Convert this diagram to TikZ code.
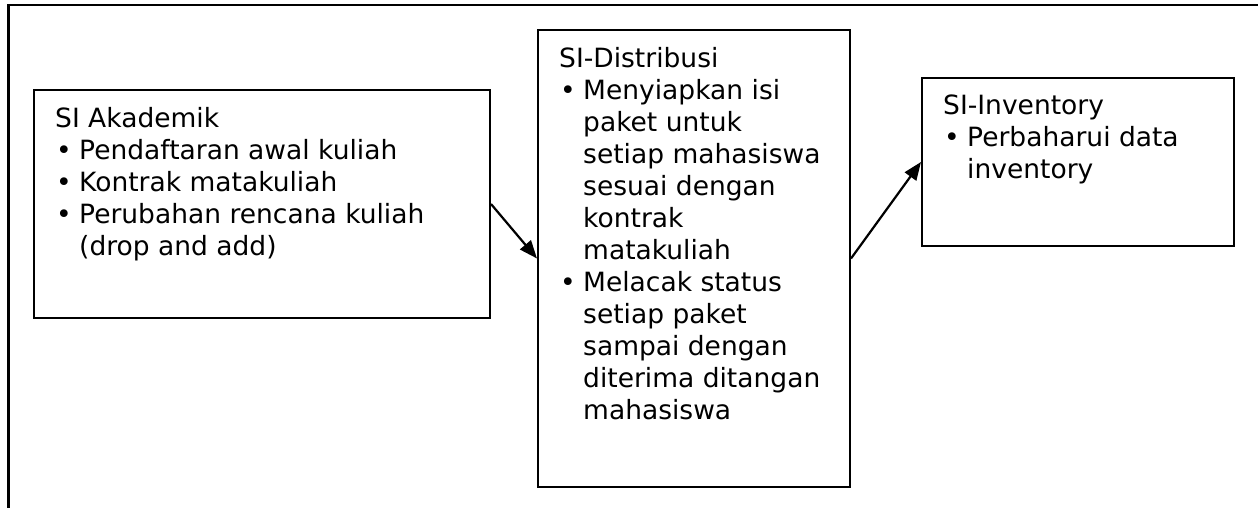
\documentclass[tikz,border=0pt]{standalone}
\usepackage{fontspec}
\setmainfont{DejaVu Sans}
\usetikzlibrary{arrows.meta}
% one printed line, a bulleted line and a continuation line
\newcommand\rowtext[1]{\hbox{#1}}
\newcommand\bul[1]{\hbox{\makebox[24pt][l]{\hspace{1pt}\textbullet}#1}}
\newcommand\cont[1]{\hbox{\hspace*{24pt}#1}}
\begin{document}
\begin{tikzpicture}[x=1pt,y=-1pt,
  box/.style={draw,line width=2pt,inner sep=0pt,minimum width=#1},
  txt/.style={anchor=base west,inner sep=0pt,
    font=\fontsize{26.5}{32}\selectfont},
  flow/.style={line width=2.2pt,-{Triangle[length=18pt,width=14pt]}}]
\useasboundingbox (0,0) rectangle (1258,508);
% outer frame (only its top and left sides fall in the page)
\draw[line width=2.4pt] (8.5,508) -- (8.5,5) -- (1258,5);
% the three systems
\node[box=456pt,minimum height=228pt] (aka) at (262,204) {};
\node[box=312pt,minimum height=457pt] (dis) at (694,258.5) {};
\node[box=312pt,minimum height=168pt] (inv) at (1078,162) {};
\node[txt] (akat) at (55,128) {\vtop{%
  \rowtext{SI Akademik}
  \bul{Pendaftaran awal kuliah}
  \bul{Kontrak matakuliah}
  \bul{Perubahan rencana kuliah}
  \cont{(drop and add)}}};
\node[txt] (dist) at (559,68) {\vtop{%
  \rowtext{SI-Distribusi}
  \bul{Menyiapkan isi}
  \cont{paket untuk}
  \cont{setiap mahasiswa}
  \cont{sesuai dengan}
  \cont{kontrak}
  \cont{matakuliah}
  \bul{Melacak status}
  \cont{setiap paket}
  \cont{sampai dengan}
  \cont{diterima ditangan}
  \cont{mahasiswa}}};
\node[txt] (invt) at (943,115) {\vtop{%
  \rowtext{SI-Inventory}
  \bul{Perbaharui data}
  \cont{inventory}}};
% flow between the systems
\draw[flow] (aka.east) -- (dis.west);
\draw[flow] (dis.east) -- (inv.west);
\end{tikzpicture}
\end{document}
